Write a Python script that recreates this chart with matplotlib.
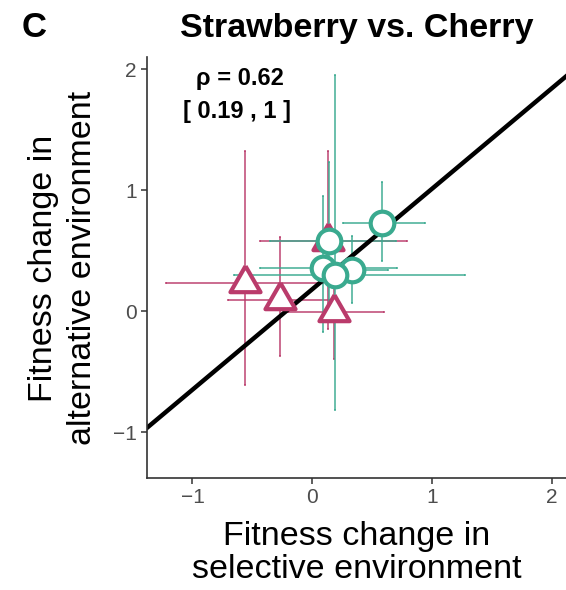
import matplotlib.pyplot as plt
import numpy as np

plt.rcParams['font.family'] = ['Liberation Sans', 'DejaVu Sans']

# strawberry-selected lines (triangles)
straw_x = [-0.56, -0.27, 0.13, 0.18]
straw_y = [0.23, 0.09, 0.58, -0.01]
straw_x_lo = [-1.22, -0.70, -0.44, -0.20]
straw_x_hi = [0.09, 0.16, 0.79, 0.60]
straw_y_lo = [-0.61, -0.37, -0.15, -0.40]
straw_y_hi = [1.32, 0.61, 1.32, 0.37]

# cherry-selected lines (circles)
cherry_x = [0.58, 0.09, 0.33, 0.14, 0.19]
cherry_y = [0.73, 0.36, 0.34, 0.58, 0.30]
cherry_x_lo = [0.26, -0.44, 0.04, -0.35, -0.65]
cherry_x_hi = [0.94, 0.71, 0.63, 0.70, 1.28]
cherry_y_lo = [0.41, -0.17, 0.07, -0.08, -0.82]
cherry_y_hi = [1.07, 0.95, 0.62, 1.23, 1.95]

# fitted line
fit_slope = 0.83
fit_intercept = 0.18

rho = 0.62
rho_ci = (0.19, 1)

pink = '#BA3B6B'
teal = '#3AAA8F'

# equilateral triangle centred on its centroid
tri = [(0, 1), (-0.866, -0.5), (0.866, -0.5), (0, 1)]

fig = plt.figure(figsize=(5.66, 5.90), dpi=100)
ax = fig.add_axes([147 / 566, 112 / 590, 419 / 566, 421 / 590])


def draw_group(x, y, xlo, xhi, ylo, yhi, color, marker, ms):
    x = np.array(x)
    y = np.array(y)
    xerr = [x - np.array(xlo), np.array(xhi) - x]
    yerr = [y - np.array(ylo), np.array(yhi) - y]
    ax.errorbar(x, y, xerr=xerr, yerr=yerr, fmt='none', ecolor=color,
                elinewidth=1.4, capsize=0.7, capthick=1.4, alpha=0.75, zorder=1)
    ax.plot(x, y, linestyle='none', marker=marker, markersize=ms,
            markerfacecolor='white', markeredgecolor=color,
            markeredgewidth=3.0, zorder=3)


draw_group(straw_x, straw_y, straw_x_lo, straw_x_hi, straw_y_lo, straw_y_hi,
           pink, tri, 25)
draw_group(cherry_x, cherry_y, cherry_x_lo, cherry_x_hi, cherry_y_lo, cherry_y_hi,
           teal, 'o', 17)

ax.axline((0, fit_intercept), slope=fit_slope, color='black', lw=3.2, zorder=2)

ax.text(-0.6, 1.92, f'ρ = {rho:.2f}', ha='center', va='center',
        fontsize=17, fontweight='bold')
ax.text(-0.63, 1.65, f'[ {rho_ci[0]:.2f} , {rho_ci[1]} ]', ha='center', va='center',
        fontsize=17, fontweight='bold')

ax.set_xlim(-1.38, 2.12)
ax.set_ylim(-1.38, 2.10)
ax.set_xticks([-1, 0, 1, 2])
ax.set_yticks([-1, 0, 1, 2])
ax.set_xticklabels(['\u22121', '0', '1', '2'])
ax.set_yticklabels(['\u22121', '0', '1', '2'])
ax.tick_params(colors='#333333', labelcolor='#4D4D4D', labelsize=15,
               length=4, width=1.1)
for side in ['top', 'right']:
    ax.spines[side].set_visible(False)
for side in ['left', 'bottom']:
    ax.spines[side].set_color('#333333')
    ax.spines[side].set_linewidth(1.2)

fig.text(356.5 / 566, 1 - 553 / 590, 'Fitness change in\nselective environment',
         ha='center', va='center', fontsize=24.5, linespacing=1.05)
fig.text(63 / 566, 1 - 268 / 590, 'Fitness change in\nalternative environment',
         ha='center', va='center', fontsize=24.5, linespacing=1.3, rotation=90)
fig.text(356.5 / 566, 1 - 37 / 590, 'Strawberry vs. Cherry', ha='center',
         va='baseline', fontsize=24.5, fontweight='bold')
fig.text(22 / 566, 1 - 37 / 590, 'C', ha='left', va='baseline',
         fontsize=25, fontweight='bold')

fig.savefig('out.png', dpi=100)
